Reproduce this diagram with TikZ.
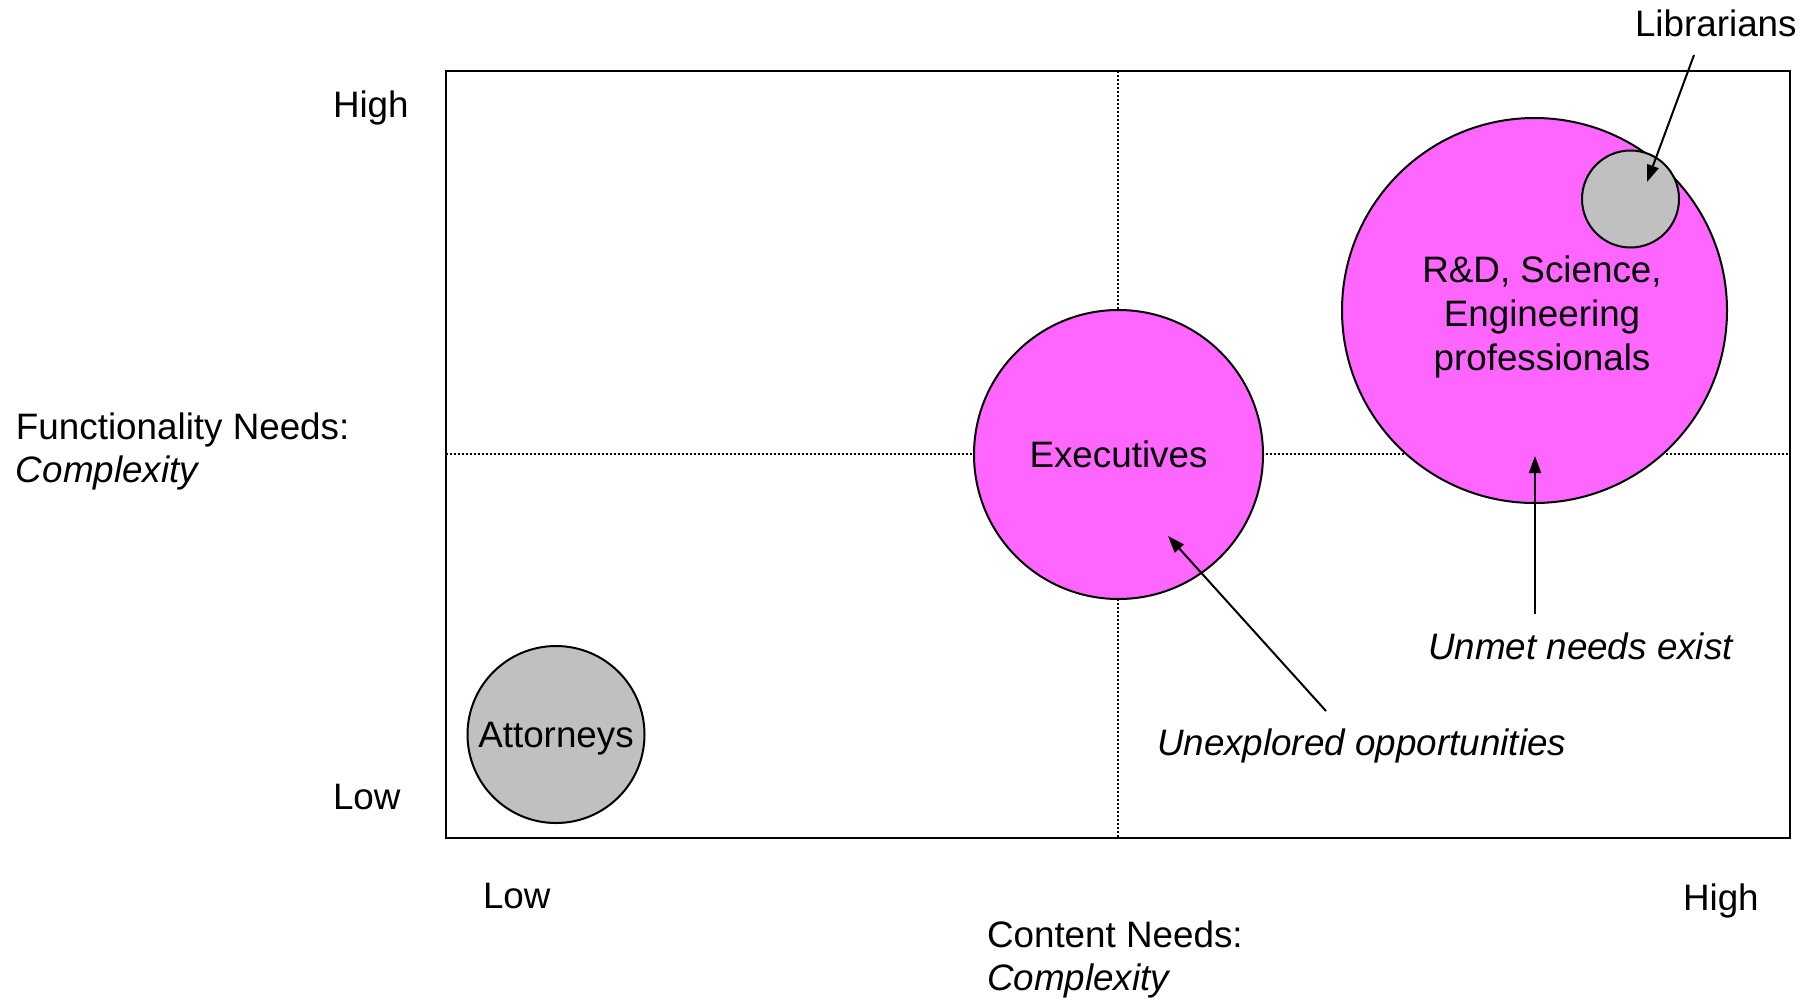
\documentclass[tikz,border=0pt]{standalone}
\usepackage{fontspec}
\setmainfont{Liberation Sans}
\usetikzlibrary{arrows.meta}
\definecolor{pinkfill}{HTML}{FF66FF}
\definecolor{grayfill}{HTML}{C0C0C0}
\tikzset{
  txt/.style={inner sep=0pt, outer sep=0pt, font=\fontsize{36.8}{44}\selectfont},
  itxt/.style={txt, font=\fontsize{36.8}{44}\selectfont\itshape},
  bubble/.style={circle, draw=black, line width=2pt, inner sep=0pt, txt, text height=26pt, text depth=0pt},
  pinkbubble/.style={bubble, fill=pinkfill},
  graybubble/.style={bubble, fill=grayfill},
  divider/.style={line width=1.5pt, dash pattern=on 1.5pt off 2.5pt},
  arr/.style={line width=2pt, -{Triangle[length=17pt,width=12pt]}}
}
\begin{document}
\begin{tikzpicture}[x=1pt,y=-1pt]
\useasboundingbox[fill=white] (0,0) rectangle (1815,1002);
% frame and quadrant dividers
\coordinate (tl) at (446,71);
\coordinate (br) at (1790,838);
\coordinate (vtop) at (1118,71);
\coordinate (vbot) at (1118,838);
\coordinate (hleft) at (446,454);
\coordinate (hright) at (1790,454);
\draw[divider] (vtop) -- (vbot);
\draw[divider] (hleft) -- (hright);
\draw[line width=2pt] (tl) rectangle (br);
% bubbles
\node[pinkbubble, minimum size=289pt] (exec) at (1118.5,454.5) {Executives};
\node[pinkbubble, minimum size=385pt] (rd) at (1534.5,310.5) {};
\node[txt, align=center] (rdtext) at (1542,317) {R\&D, Science,\\Engineering\\professionals};
\node[graybubble, minimum size=97pt] (lib) at (1630.5,199) {};
\node[graybubble, minimum size=177pt] (att) at (556,734.5) {Attorneys};
% axis labels
\node[txt, anchor=base west] (yhigh) at (333,117) {High};
\node[txt, anchor=base west] (ylow) at (333,809) {Low};
\node[txt, anchor=base west] (ytitle) at (16,439) {Functionality Needs:};
\node[itxt, anchor=base west] (ysub) at (16,482) {Complexity};
\node[txt, anchor=base west] (xlow) at (483,908) {Low};
\node[txt, anchor=base west] (xhigh) at (1683,910) {High};
\node[txt, anchor=base west] (xtitle) at (987,947) {Content Needs:};
\node[itxt, anchor=base west] (xsub) at (987,990) {Complexity};
% annotations
\node[txt, anchor=base west] (libtext) at (1635,36) {Librarians};
\node[itxt, anchor=base west] (unmet) at (1428,659) {Unmet needs exist};
\node[itxt, anchor=base west] (unexp) at (1157,755) {Unexplored opportunities};
% connectors
\coordinate (libtail) at (1694,55);
\coordinate (libtip) at (1647,182);
\coordinate (unmettail) at (1535,614);
\coordinate (unmettip) at (1535,456);
\coordinate (unexptail) at (1326,711);
\coordinate (unexptip) at (1168,536);
\draw[arr] (libtail) -- (libtip);
\draw[arr] (unmettail) -- (unmettip);
\draw[arr] (unexptail) -- (unexptip);
\end{tikzpicture}
\end{document}
